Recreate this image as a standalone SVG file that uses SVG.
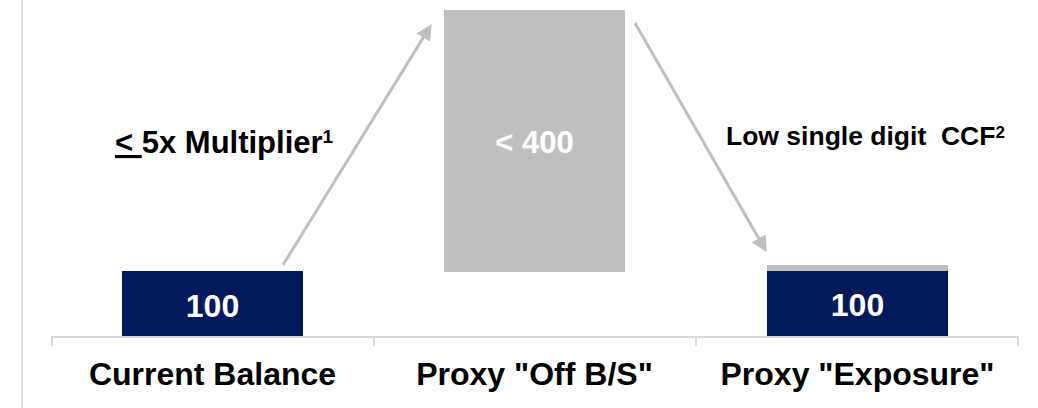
<svg xmlns="http://www.w3.org/2000/svg" width="1038" height="408" viewBox="0 0 1038 408">
  <style>
    text { font-family: "Liberation Sans", Arial, sans-serif; font-weight: bold; }
    .lbl { font-size: 32px; fill: #000; text-anchor: middle; }
    .val { font-size: 32px; fill: #fff; text-anchor: middle; }
    .note { fill: #000; }
    .navy { fill: #021A5C; }
    .grey { fill: #BFBFBF; }
    .axis { stroke: #D9D9D9; stroke-width: 2; fill: none; }
    .arrow { stroke: #BFBFBF; stroke-width: 3; fill: none; marker-end: url(#ah); }
  </style>
  <defs>
    <marker id="ah" markerUnits="userSpaceOnUse" markerWidth="16" markerHeight="16" refX="13" refY="8" orient="auto">
      <path d="M0,0 L16,8 L0,16 Z" fill="#BFBFBF"/>
    </marker>
  </defs>
  <rect width="1038" height="408" fill="#fff"/>
  <line x1="22" y1="0" x2="22" y2="408" stroke="#DDDDDD" stroke-width="2"/>

  <g id="axis">
    <path class="axis" d="M52,346 V337 H1018 V346 M374,337 V346 M696,337 V346"/>
  </g>

  <g id="current-balance">
    <rect class="navy" x="122" y="271" width="181" height="65"/>
    <text class="val" x="212.5" y="317">100</text>
    <text class="lbl" x="212.5" y="385">Current Balance</text>
  </g>

  <g id="proxy-off-bs">
    <rect class="grey" x="444" y="10" width="181" height="262"/>
    <text class="val" x="534.5" y="153" style="font-size:31px">&lt; 400</text>
    <text class="lbl" x="534.5" y="385">Proxy "Off B/S"</text>
  </g>

  <g id="proxy-exposure">
    <rect class="grey" x="767" y="265" width="181" height="6"/>
    <rect class="navy" x="767" y="271" width="181" height="65"/>
    <text class="val" x="857.5" y="316">100</text>
    <text class="lbl" x="857.5" y="385">Proxy "Exposure"</text>
  </g>

  <g id="connectors">
    <line class="arrow" x1="283" y1="265" x2="430.1" y2="26.6"/>
    <line class="arrow" x1="635" y1="23" x2="765.2" y2="249.7"/>
  </g>

  <g id="labels">
    <text class="note" x="115" y="153" style="font-size:31px"><tspan text-decoration="underline">&lt; </tspan>5x Multiplier<tspan font-size="19" dy="-10">1</tspan></text>
    <text class="note" x="726" y="145" style="font-size:26.5px">Low single digit&#160; CCF<tspan font-size="17" dy="-7">2</tspan></text>
  </g>
</svg>
